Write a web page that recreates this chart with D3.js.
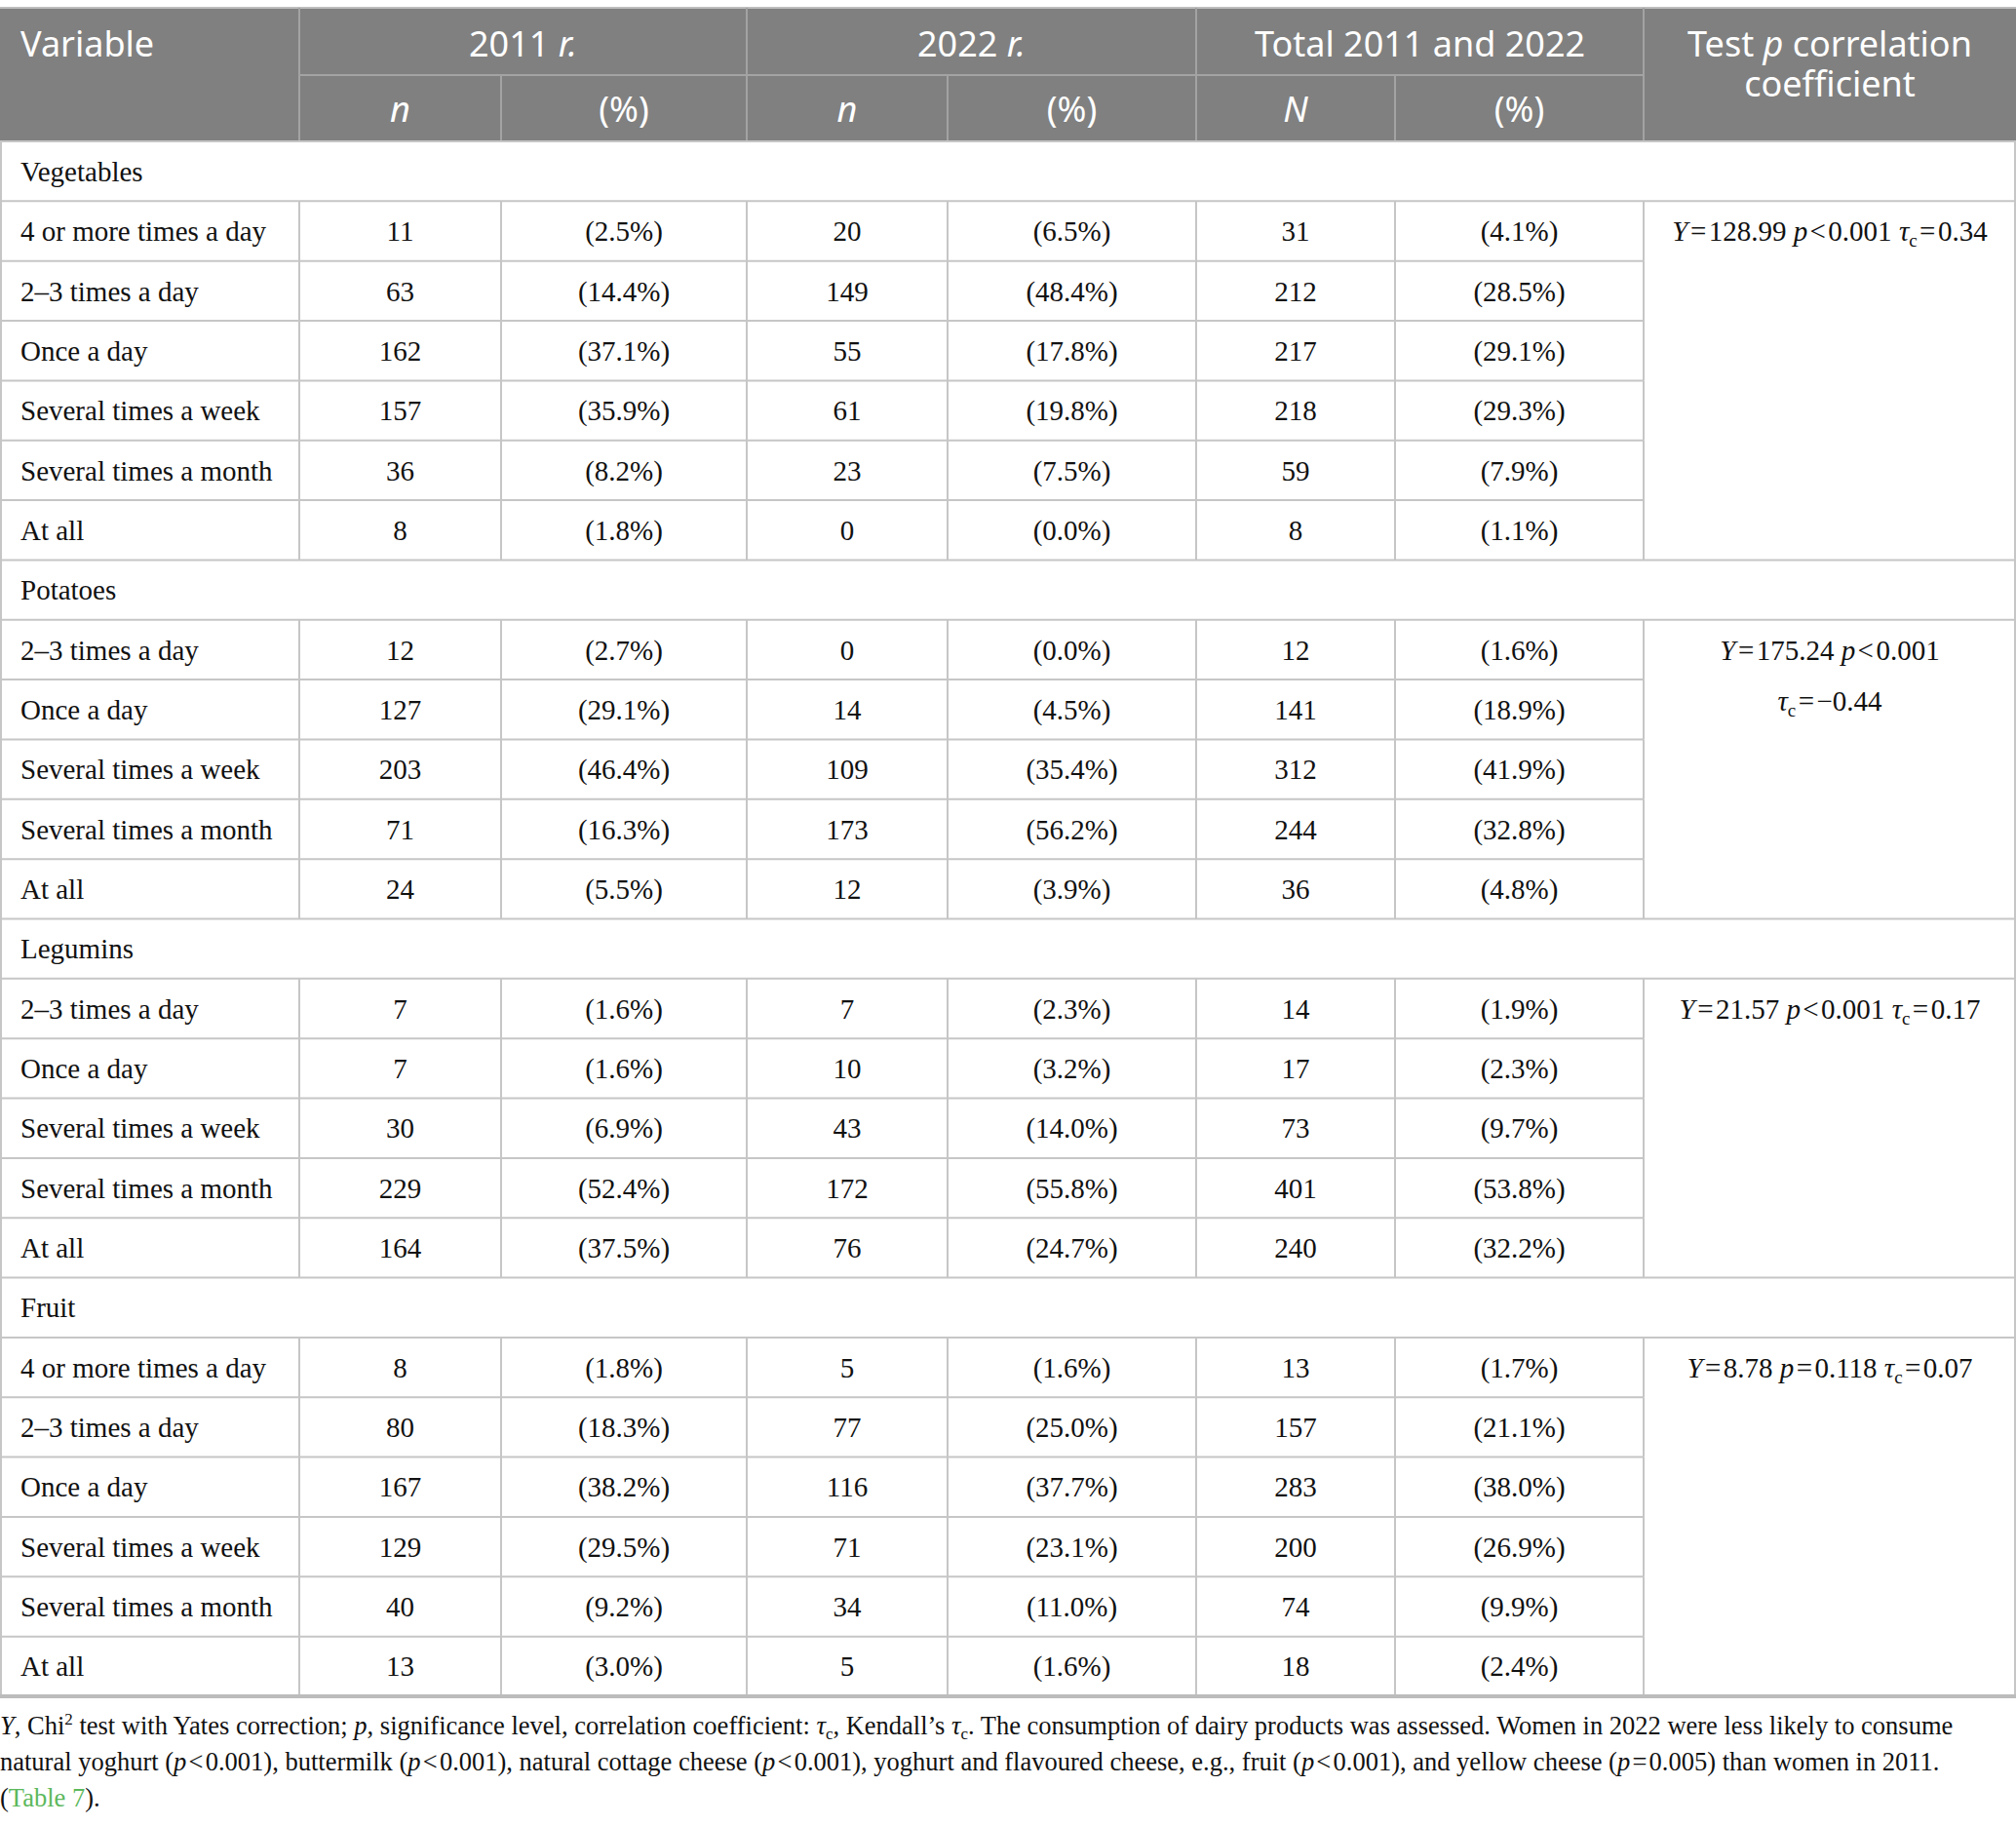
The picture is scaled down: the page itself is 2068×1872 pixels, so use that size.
<!DOCTYPE html>
<html>

<head>
    <meta charset="utf-8">
    <title>Table 6</title>
    <script src="https://d3js.org/d3.v7.min.js"></script>
    <style>
        body {
            margin: 0;
            background: #fff;
        }

        svg text {
            font-family: "Liberation Serif", "DejaVu Serif", serif;
        }

        .head {
            font-family: "Noto Sans", "Open Sans", sans-serif !important;
        }
    </style>
</head>

<body>
    <div class="inner"></div>
    <script>
        const groups = ["Vegetables", "Potatoes", "Legumins", "Fruit"]
        const rowGroup = [0, 0, 0, 0, 0, 0, 1, 1, 1, 1, 1, 2, 2, 2, 2, 2, 3, 3, 3, 3, 3, 3]
        const frequency = [
            "4 or more times a day", "2–3 times a day", "Once a day", "Several times a week", "Several times a month", "At all",
            "2–3 times a day", "Once a day", "Several times a week", "Several times a month", "At all",
            "2–3 times a day", "Once a day", "Several times a week", "Several times a month", "At all",
            "4 or more times a day", "2–3 times a day", "Once a day", "Several times a week", "Several times a month", "At all"
        ]
        const n2011 = [11, 63, 162, 157, 36, 8, 12, 127, 203, 71, 24, 7, 7, 30, 229, 164, 8, 80, 167, 129, 40, 13]
        const pct2011 = [2.5, 14.4, 37.1, 35.9, 8.2, 1.8, 2.7, 29.1, 46.4, 16.3, 5.5, 1.6, 1.6, 6.9, 52.4, 37.5, 1.8, 18.3, 38.2, 29.5, 9.2, 3.0]
        const n2022 = [20, 149, 55, 61, 23, 0, 0, 14, 109, 173, 12, 7, 10, 43, 172, 76, 5, 77, 116, 71, 34, 5]
        const pct2022 = [6.5, 48.4, 17.8, 19.8, 7.5, 0.0, 0.0, 4.5, 35.4, 56.2, 3.9, 2.3, 3.2, 14.0, 55.8, 24.7, 1.6, 25.0, 37.7, 23.1, 11.0, 1.6]
        const nTotal = [31, 212, 217, 218, 59, 8, 12, 141, 312, 244, 36, 14, 17, 73, 401, 240, 13, 157, 283, 200, 74, 18]
        const pctTotal = [4.1, 28.5, 29.1, 29.3, 7.9, 1.1, 1.6, 18.9, 41.9, 32.8, 4.8, 1.9, 2.3, 9.7, 53.8, 32.2, 1.7, 21.1, 38.0, 26.9, 9.9, 2.4]

        const testY = ["128.99", "175.24", "21.57", "8.78"]
        const testPOp = ["<", "<", "<", "="]
        const testP = ["0.001", "0.001", "0.001", "0.118"]
        const testTau = ["0.34", "−0.44", "0.17", "0.07"]

        const columns = ["label", "n2011", "pct2011", "n2022", "pct2022", "nTotal", "pctTotal", "test"]
        const colWidths = [307, 207, 252, 206, 255, 204, 255, 382]

        const w = 2068, h = 1872
        const headTop = 8, headMid = 77, headBottom = 145, tableBottom = 1740
        const lineColor = "#c6c6c6"
        const sp = "\u200A"

        const colX = d3.scaleOrdinal()
            .domain(columns)
            .range(d3.cumsum([0, ...colWidths.slice(0, -1)]))
        const colW = d3.scaleOrdinal().domain(columns).range(colWidths)
        const colMid = c => colX(c) + colW(c) / 2

        // rows: group title row followed by its frequency rows
        const rows = []
        groups.forEach((g, gi) => {
            rows.push({ type: "group", g: gi })
            rowGroup.forEach((rg, i) => { if (rg === gi) rows.push({ type: "data", g: gi, i: i }) })
        })

        const yScale = d3.scaleBand()
            .domain(d3.range(rows.length))
            .range([headBottom, tableBottom])
            .padding(0)
        const rh = yScale.bandwidth()

        const fmtPct = v => "(" + d3.format(".1f")(v) + "%)"
        const valueOf = {
            n2011: i => n2011[i], pct2011: i => fmtPct(pct2011[i]),
            n2022: i => n2022[i], pct2022: i => fmtPct(pct2022[i]),
            nTotal: i => nTotal[i], pctTotal: i => fmtPct(pctTotal[i])
        }

        const svg = d3.select(".inner")
            .append("svg")
            .attr("width", w)
            .attr("height", h)

        // header
        svg.append("rect")
            .attr("x", 0).attr("y", headTop)
            .attr("width", w).attr("height", headBottom - headTop)
            .attr("fill", "#808080")
        svg.append("line")
            .attr("x1", 0).attr("x2", w).attr("y1", headTop).attr("y2", headTop)
            .attr("stroke", "#bdbdbd").attr("stroke-width", 2)

        const headLine = (x1, y1, x2, y2) => svg.append("line")
            .attr("x1", x1).attr("y1", y1).attr("x2", x2).attr("y2", y2)
            .attr("stroke", "#a3a3a3").attr("stroke-width", 2)
        headLine(colX("n2011"), headMid, colX("test"), headMid)
        ;["n2011", "n2022", "nTotal", "test"].forEach(c => headLine(colX(c), headTop, colX(c), headBottom))
        ;["pct2011", "pct2022", "pctTotal"].forEach(c => headLine(colX(c), headMid, colX(c), headBottom))

        const head = svg.append("g")
            .attr("class", "head")
            .attr("fill", "#fff")
            .style("font-size", "36px")

        const headText = (x, y, anchor, parts) => {
            const t = head.append("text")
                .attr("class", "head")
                .attr("x", x).attr("y", y).attr("dy", "0.35em")
                .attr("text-anchor", anchor)
            parts.forEach(p => t.append("tspan")
                .attr("class", "head")
                .style("font-style", p[1] ? "italic" : "normal")
                .text(p[0]))
            return t
        }

        headText(21, 45, "start", [["Variable"]])
        headText((colX("n2011") + colX("n2022")) / 2, 45, "middle", [["2011 "], ["r.", true]])
        headText((colX("n2022") + colX("nTotal")) / 2, 45, "middle", [["2022 "], ["r.", true]])
        headText((colX("nTotal") + colX("test")) / 2, 45, "middle", [["Total 2011 and 2022"]])
        headText(colMid("test"), 45, "middle", [["Test "], ["p", true], [" correlation"]])
            .append("tspan")
            .attr("class", "head")
            .attr("x", colMid("test")).attr("dy", 41)
            .text("coefficient")
        const subHeads = [["n", true], ["(%)"], ["n", true], ["(%)"], ["N", true], ["(%)"]]
        columns.slice(1, 7).forEach((c, k) => headText(colMid(c), 112, "middle", [subHeads[k]]))

        // body lines
        const body = svg.append("g")
        const hLine = (x1, x2, y, sw, col) => body.append("line")
            .attr("x1", x1).attr("x2", x2).attr("y1", y).attr("y2", y)
            .attr("stroke", col || lineColor).attr("stroke-width", sw || 2)
        const vLine = (x, y1, y2) => body.append("line")
            .attr("x1", x).attr("x2", x).attr("y1", y1).attr("y2", y2)
            .attr("stroke", lineColor).attr("stroke-width", 2)

        rows.forEach((r, k) => {
            const y0 = yScale(k)
            if (r.type === "group") {
                hLine(0, w, y0)
                hLine(0, w, y0 + rh)
            } else {
                const first = rows[k - 1].type === "group"
                if (!first) hLine(0, colX("test"), y0)
                columns.slice(1).forEach(c => vLine(colX(c), y0, y0 + rh))
            }
        })
        vLine(1, headBottom, tableBottom)
        vLine(w - 1, headBottom, tableBottom)
        hLine(0, w, tableBottom, 4, "#bcbcbc")

        // body text
        const cells = body.append("g")
            .attr("fill", "#111")
            .style("font-size", "29px")

        rows.forEach((r, k) => {
            const yc = yScale(k) + rh / 2
            if (r.type === "group") {
                cells.append("text").attr("x", 21).attr("y", yc).attr("dy", "0.35em").text(groups[r.g])
                return
            }
            cells.append("text").attr("x", 21).attr("y", yc).attr("dy", "0.35em").text(frequency[r.i])
            columns.slice(1, 7).forEach(c => {
                cells.append("text")
                    .attr("x", colMid(c)).attr("y", yc).attr("dy", "0.35em")
                    .attr("text-anchor", "middle")
                    .text(valueOf[c](r.i))
            })
        })

        // test statistics, one per group, in the first data row
        const addTau = (t, val) => {
            t.append("tspan").style("font-style", "italic").text("τ")
            t.append("tspan").attr("dy", 6).style("font-size", "19px").text("c")
            t.append("tspan").attr("dy", -6).text(sp + "=" + sp + val)
        }
        groups.forEach((g, gi) => {
            const k = rows.findIndex(r => r.type === "data" && r.g === gi)
            const yc = yScale(k) + rh / 2
            const t = cells.append("text")
                .attr("x", colMid("test")).attr("y", yc).attr("dy", "0.35em")
                .attr("text-anchor", "middle")
            t.append("tspan").style("font-style", "italic").text("Y")
            t.append("tspan").text(sp + "=" + sp + testY[gi] + " ")
            t.append("tspan").style("font-style", "italic").text("p")
            t.append("tspan").text(sp + testPOp[gi] + sp + testP[gi])
            if (gi === 1) {
                const t2 = cells.append("text")
                    .attr("x", colMid("test")).attr("y", yc + 52).attr("dy", "0.35em")
                    .attr("text-anchor", "middle")
                addTau(t2, testTau[gi])
            } else {
                t.append("tspan").text(" ")
                addTau(t, testTau[gi])
            }
        })

        // footnote
        const foot = svg.append("g")
            .attr("fill", "#111")
            .style("font-size", "27px")
        const f1 = foot.append("text").attr("x", 0).attr("y", 1770).attr("dy", "0.35em")
        const it = (t, s) => t.append("tspan").style("font-style", "italic").text(s)
        const tx = (t, s, dy) => t.append("tspan").attr("dy", dy || null).text(s)
        const tauSub = t => {
            it(t, "τ")
            t.append("tspan").attr("dy", 5).style("font-size", "17px").text("c")
        }
        it(f1, "Y")
        tx(f1, ", Chi")
        f1.append("tspan").attr("dy", -10).style("font-size", "17px").text("2")
        tx(f1, " test with Yates correction; ", 10)
        it(f1, "p")
        tx(f1, ", significance level, correlation coefficient: ")
        tauSub(f1)
        tx(f1, ", Kendall’s ", -5)
        tauSub(f1)
        tx(f1, ". The consumption of dairy products was assessed. Women in 2022 were less likely to consume", -5)

        const f2 = foot.append("text").attr("x", 0).attr("y", 1807).attr("dy", "0.35em")
        const pParts = [
            ["natural yoghurt (", "<", "0.001"], ["), buttermilk (", "<", "0.001"],
            ["), natural cottage cheese (", "<", "0.001"], ["), yoghurt and flavoured cheese, e.g., fruit (", "<", "0.001"],
            ["), and yellow cheese (", "=", "0.005"]
        ]
        pParts.forEach(p => {
            tx(f2, p[0])
            it(f2, "p")
            tx(f2, sp + p[1] + sp + p[2])
        })
        tx(f2, ") than women in 2011.")

        const f3 = foot.append("text").attr("x", 0).attr("y", 1844).attr("dy", "0.35em")
        tx(f3, "(")
        f3.append("tspan").attr("fill", "#5cb85c").text("Table 7")
        tx(f3, ").")

        // fit the footnote to the width of the first line in the source
        const fw = f1.node().getComputedTextLength()
        foot.style("font-size", (27 * 2003 / fw).toFixed(2) + "px")
    </script>
</body>

</html>
